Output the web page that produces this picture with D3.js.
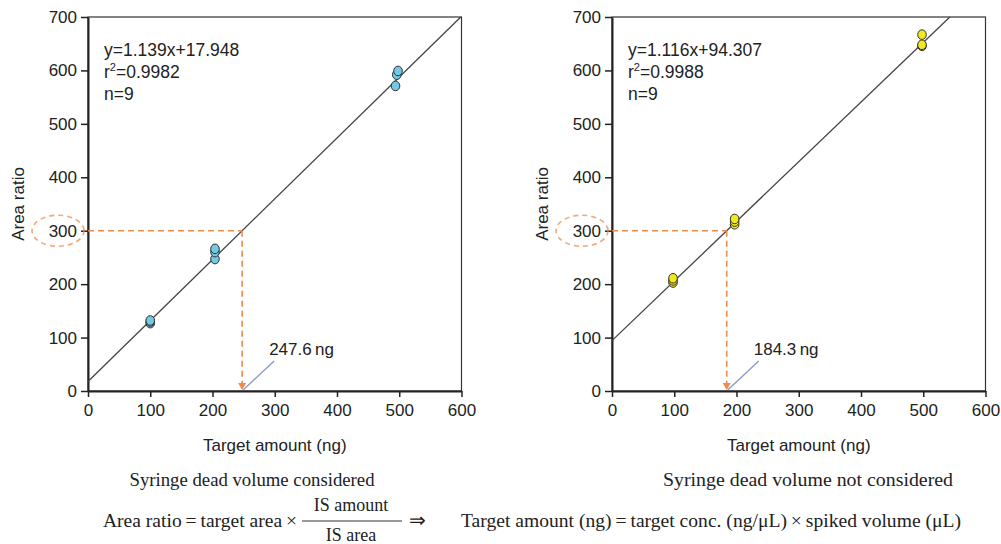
<!DOCTYPE html>
<html lang="en">
<head>
    <meta charset="UTF-8">
    <title>Calibration curves</title>
    <script src="https://d3js.org/d3.v7.min.js"></script>
    <style>
        body { margin: 0; background: #fff; }
        svg { display: block; }
        .sans { font-family: "Liberation Sans", Arial, sans-serif; fill: #222; }
        .serif { font-family: "Liberation Serif", "Times New Roman", serif; fill: #222; }
    </style>
</head>
<body>
<svg width="1001" height="544"></svg>

<script>
    // ---- data ----
    const xTicks = [0, 100, 200, 300, 400, 500, 600];
    const yTicks = [0, 100, 200, 300, 400, 500, 600, 700];

    // left: syringe dead volume considered
    const leftX = [100, 100, 100, 204, 204, 204, 494, 496, 498];
    const leftY = [127, 130, 132, 247, 260, 266, 571, 592, 599];
    const leftFit = [1.139, 17.948];
    const leftEq = ["y=1.139x+17.948", "0.9982", "n=9"];
    const leftResult = 247.6;

    // right: syringe dead volume not considered
    const rightX = [98, 98, 98, 197, 197, 197, 498, 498, 498];
    const rightY = [203, 207, 211, 312, 317, 322, 646, 648, 667];
    const rightFit = [1.116, 94.307];
    const rightEq = ["y=1.116x+94.307", "0.9988", "n=9"];
    const rightResult = 184.3;

    const svg = d3.select("svg");
    const orange = "#ee8a4a";

    function drawChart(left, xs, ys, fit, eq, result, fillColor, subtitle, subX, subLen) {
        const x = d3.scaleLinear().domain([0, 600]).range([left, left + 373.5]);
        const y = d3.scaleLinear().domain([0, 700]).range([391, 17]);
        const g = svg.append("g");

        // frame
        g.append("rect")
            .attr("x", x(0)).attr("y", y(700))
            .attr("width", x(600) - x(0)).attr("height", y(0) - y(700))
            .attr("fill", "none").attr("stroke", "#333").attr("stroke-width", 1.2);

        // axes
        const xa = g.append("g").attr("transform", `translate(0,${y(0)})`)
            .call(d3.axisBottom(x).tickValues(xTicks).tickSize(6).tickSizeOuter(0));
        const ya = g.append("g").attr("transform", `translate(${x(0)},0)`)
            .call(d3.axisLeft(y).tickValues(yTicks).tickSize(7).tickSizeOuter(0));
        [xa, ya].forEach(a => {
            a.select(".domain").attr("stroke", "#222").attr("stroke-width", 2);
            a.selectAll(".tick line").attr("stroke", "#222").attr("stroke-width", 1.5);
            a.selectAll("text").attr("class", "sans").attr("font-size", 17)
                .attr("fill", "#222");
        });
        xa.selectAll("text").attr("dy", "0.95em");
        ya.selectAll("text").attr("x", -11);

        // regression line, clipped at the top of the box
        const xEnd = Math.min(600, (700 - fit[1]) / fit[0]);
        g.append("line")
            .attr("x1", x(0)).attr("y1", y(fit[1]))
            .attr("x2", x(xEnd)).attr("y2", y(fit[0] * xEnd + fit[1]))
            .attr("stroke", "#444").attr("stroke-width", 1.3);

        // orange read-off lines
        const dash = "6,4";
        g.append("line")
            .attr("x1", x(0)).attr("y1", y(300)).attr("x2", x(result)).attr("y2", y(300))
            .attr("stroke", orange).attr("stroke-width", 1.6).attr("stroke-dasharray", dash);
        g.append("line")
            .attr("x1", x(result)).attr("y1", y(300)).attr("x2", x(result)).attr("y2", y(0) - 6)
            .attr("stroke", orange).attr("stroke-width", 1.6).attr("stroke-dasharray", dash);
        g.append("path")
            .attr("d", `M${x(result) - 4},${y(0) - 8}L${x(result) + 4},${y(0) - 8}L${x(result)},${y(0) - 1}Z`)
            .attr("fill", orange);

        // dashed ellipse round the 300 label
        g.append("ellipse")
            .attr("cx", x(0) - 30).attr("cy", y(300))
            .attr("rx", 26).attr("ry", 15.5)
            .attr("fill", "none").attr("stroke", orange).attr("stroke-width", 1.6)
            .attr("stroke-dasharray", "5,4").attr("opacity", 0.75);

        // result leader + label
        g.append("line")
            .attr("x1", x(result) + 1).attr("y1", y(0) - 1)
            .attr("x2", x(result) + 32).attr("y2", y(0) - 30)
            .attr("stroke", "#8898c8").attr("stroke-width", 1.3);
        g.append("text").attr("class", "sans").attr("font-size", 17)
            .attr("x", x(result) + 27).attr("y", y(0) - 36)
            .text(result + "\u2009ng");

        // data points
        g.selectAll("ellipse.pt").data(d3.zip(xs, ys)).join("ellipse")
            .attr("class", "pt")
            .attr("cx", d => x(d[0])).attr("cy", d => y(d[1]))
            .attr("rx", 4.3).attr("ry", 4.8)
            .attr("fill", fillColor).attr("stroke", "#333").attr("stroke-width", 1);

        // equation block
        const ex = x(0) + 16;
        g.append("text").attr("class", "sans").attr("font-size", 17.5)
            .attr("x", ex).attr("y", 56).text(eq[0]);
        const r2 = g.append("text").attr("class", "sans").attr("font-size", 17.5)
            .attr("x", ex).attr("y", 78);
        r2.append("tspan").text("r");
        r2.append("tspan").attr("font-size", 11).attr("dy", -7).text("2");
        r2.append("tspan").attr("dy", 7).text("=" + eq[1]);
        g.append("text").attr("class", "sans").attr("font-size", 17.5)
            .attr("x", ex).attr("y", 100).text(eq[2]);

        // axis titles
        g.append("text").attr("class", "sans").attr("font-size", 17)
            .attr("text-anchor", "middle")
            .attr("transform", `translate(${x(0) - 64},${y(350)}) rotate(-90)`)
            .text("Area ratio");
        g.append("text").attr("class", "sans").attr("font-size", 17)
            .attr("text-anchor", "middle")
            .attr("x", x(300)).attr("y", 451).text("Target amount (ng)");

        // subtitle
        g.append("text").attr("class", "serif").attr("font-size", 19)
            .attr("text-anchor", "middle")
            .attr("textLength", subLen).attr("lengthAdjust", "spacingAndGlyphs")
            .attr("x", subX).attr("y", 486).text(subtitle);
    }

    drawChart(88, leftX, leftY, leftFit, leftEq, leftResult, "#72c9e4", "Syringe dead volume considered", 252, 245);
    drawChart(612, rightX, rightY, rightFit, rightEq, rightResult, "#f2e81e", "Syringe dead volume not considered", 808, 290);

    // bottom formula
    const f = svg.append("g").attr("class", "serif").attr("font-size", 18);
    f.append("text").attr("x", 103).attr("y", 527)
        .attr("textLength", 194).attr("lengthAdjust", "spacingAndGlyphs")
        .text("Area ratio\u2009=\u2009target area\u2009\u00d7");
    f.append("text").attr("x", 351).attr("y", 511).attr("text-anchor", "middle").text("IS amount");
    f.append("line").attr("x1", 302).attr("x2", 402).attr("y1", 521).attr("y2", 521)
        .attr("stroke", "#333").attr("stroke-width", 1);
    f.append("text").attr("x", 351).attr("y", 541).attr("text-anchor", "middle").text("IS area");
    f.append("text").attr("x", 409).attr("y", 527).attr("font-size", 20).text("\u21d2");
    f.append("text").attr("x", 461).attr("y", 527)
        .attr("textLength", 500).attr("lengthAdjust", "spacingAndGlyphs")
        .text("Target amount (ng)\u2009=\u2009target conc. (ng/\u03bcL)\u2009\u00d7\u2009spiked volume (\u03bcL)");
</script>
</body>
</html>
